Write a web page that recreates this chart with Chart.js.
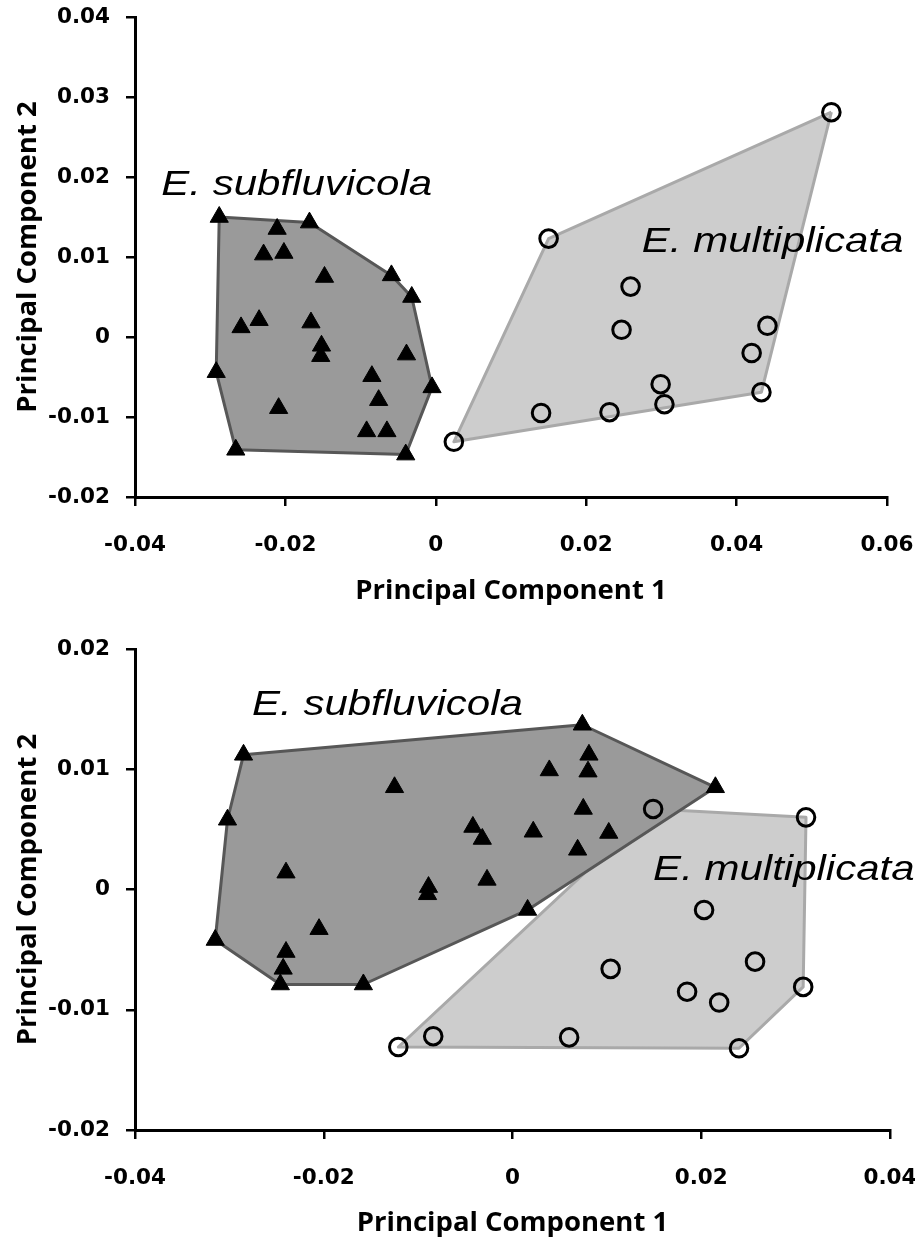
<!DOCTYPE html>
<html><head><meta charset="utf-8">
<script src="https://cdn.jsdelivr.net/npm/chart.js@4.4.1/dist/chart.umd.min.js"></script>
<style>
html,body{margin:0;padding:0;background:#fff;}
#wrap{position:relative;width:915px;height:1240px;overflow:hidden;background:#fff;}
canvas{position:absolute;left:0;}
#c1{top:0;} #c2{top:632px;}
</style></head><body>
<div id="wrap"><canvas id="c1" width="915" height="608"></canvas><canvas id="c2" width="915" height="608"></canvas></div>
<script>
// ---------- Top panel data ----------
const topTriX = [-0.0288,-0.0211,-0.0168,-0.0229,-0.0202,-0.0148,-0.0059,-0.0032,-0.0259,-0.0235,-0.0166,-0.0152,-0.0153,-0.0039,-0.0292,-0.0085,-0.0005,-0.0209,-0.0076,-0.0092,-0.0065,-0.0266,-0.0040];
const topTriY = [0.0150,0.0135,0.0143,0.0103,0.0105,0.0075,0.0077,0.0050,0.0012,0.0021,0.0018,-0.0011,-0.0024,-0.0022,-0.0044,-0.0049,-0.0063,-0.0089,-0.0079,-0.0118,-0.0118,-0.0141,-0.0147];
const topCircX = [0.0526,0.0150,0.0259,0.0247,0.0441,0.0420,0.0299,0.0304,0.0433,0.0140,0.0231,0.0024];
const topCircY = [0.0281,0.0123,0.0063,0.0009,0.0014,-0.0020,-0.0059,-0.0084,-0.0069,-0.0095,-0.0094,-0.0131];
const topTriHull = [0,2,6,7,16,22,21,14];
const topCircHull = [0,8,11,1];
const topXTicks = [-0.04,-0.02,0,0.02,0.04,0.06];
const topYTicks = [-0.02,-0.01,0,0.01,0.02,0.03,0.04];
const topLabelText = ['E. subfluvicola','E. multiplicata'];
const topLabelX = [-0.0365,0.0274];
const topLabelY = [0.0177,0.0106];

// ---------- Bottom panel data ----------
const botTriX = [-0.0285,0.0074,0.0081,0.0080,0.0039,-0.0125,0.0215,0.0075,-0.0302,-0.0042,-0.0032,0.0022,0.0102,0.0069,-0.0240,-0.0027,-0.0089,-0.0090,0.0016,-0.0205,-0.0315,-0.0240,-0.0243,-0.0246,-0.0158];
const botTriY = [0.0112,0.0137,0.0112,0.0098,0.0099,0.0085,0.0085,0.0067,0.0058,0.0052,0.0042,0.0048,0.0047,0.0033,0.0014,0.0008,0.0002,-0.0004,-0.0017,-0.0033,-0.0042,-0.0052,-0.0066,-0.0079,-0.0079];
const botCircX = [0.0149,0.0311,0.0203,0.0104,0.0257,0.0185,0.0219,0.0308,-0.0084,0.0060,-0.0121,0.0240];
const botCircY = [0.0067,0.0060,-0.0017,-0.0066,-0.0060,-0.0085,-0.0094,-0.0081,-0.0122,-0.0123,-0.0131,-0.0132];
const botTriHull = [0,1,6,18,24,23,20,8];
const botCircHull = [0,1,7,11,10];
const botXTicks = [-0.04,-0.02,0,0.02,0.04];
const botYTicks = [-0.02,-0.01,0,0.01,0.02];
const botLabelText = ['E. subfluvicola','E. multiplicata'];
const botLabelX = [-0.0276,0.0149];
const botLabelY = [0.0145,0.0008];

const xTitle = 'Principal Component 1';
const yTitle = 'Principal Component 2';

// ---------- helpers ----------
const pts = (xs, ys) => xs.map((x, i) => ({x, y: ys[i]}));
const hull = (xs, ys, idx) => idx.concat([idx[0]]).map(i => ({x: xs[i], y: ys[i]}));
const fmt = v => String(Number(Number(v).toFixed(2)));
const tickFont = {family: '"DejaVu Sans", sans-serif', size: 21.5, weight: 'bold'};
const titleFont = {family: '"Open Sans", sans-serif', size: 27.5, weight: 'bold'};

const labelPlugin = {
  id: 'speciesLabels',
  afterDatasetsDraw(chart, args, opts) {
    const {ctx} = chart; const xs = chart.scales.x, ys = chart.scales.y;
    ctx.save();
    ctx.font = 'italic 35px "Liberation Sans", Arial, sans-serif';
    ctx.fillStyle = '#000';
    ctx.textBaseline = 'alphabetic';
    ctx.textAlign = 'left';
    opts.text.forEach((t, i) => {
      ctx.save();
      ctx.translate(xs.getPixelForValue(opts.x[i]), ys.getPixelForValue(opts.y[i]));
      ctx.scale(1.2, 1);
      ctx.fillText(t, 0, 0);
      ctx.restore();
    });
    ctx.restore();
  }
};

function makeChart(id, d) {
  const axisBase = (ticks, min, max) => ({
    type: 'linear', min, max,
    afterBuildTicks: s => { s.ticks = ticks.map(v => ({value: v})); },
    grid: {drawOnChartArea: false, drawTicks: true, tickLength: 9, color: '#000', lineWidth: 2.5},
    border: {display: true, color: '#000', width: 3},
  });
  const xs = axisBase(d.xTicks, d.xTicks[0], d.xTicks[d.xTicks.length - 1]);
  xs.ticks = {callback: fmt, font: tickFont, color: '#000', padding: 27, maxRotation: 0, autoSkip: false};
  xs.title = {display: true, text: xTitle, font: titleFont, color: '#000', padding: {top: 0, bottom: 0}};
  xs.afterFit = s => { s.height = d.xAxisH; s.paddingLeft = 0; s.paddingRight = 0; };
  const ys = axisBase(d.yTicks, d.yTicks[0], d.yTicks[d.yTicks.length - 1]);
  ys.ticks = {callback: fmt, font: tickFont, color: '#000', padding: 16, autoSkip: false};
  ys.title = {display: true, text: yTitle, font: titleFont, color: '#000', padding: {top: 12, bottom: 0}};
  ys.afterFit = s => { s.width = 135; s.paddingTop = 0; s.paddingBottom = 0; };

  return new Chart(document.getElementById(id), {
    type: 'scatter',
    data: {datasets: [
      {label: 'tri', data: pts(d.triX, d.triY), order: 0, pointStyle: 'triangle', pointRadius: 10.5, pointHoverRadius: 10.5,
       backgroundColor: '#000', borderColor: '#000', borderWidth: 1},
      {label: 'circ', data: pts(d.circX, d.circY), order: 0, pointStyle: 'circle', pointRadius: 8.8, pointHoverRadius: 8.8,
       backgroundColor: 'rgba(0,0,0,0)', borderColor: '#000', borderWidth: 3},
      {label: 'triHull', data: hull(d.triX, d.triY, d.triHull), order: 1, showLine: true, fill: 'shape', pointRadius: 0,
       backgroundColor: '#9a9a9a', borderColor: '#575757', borderWidth: 3, tension: 0, borderJoinStyle: 'round'},
      {label: 'circHull', data: hull(d.circX, d.circY, d.circHull), order: 2, showLine: true, fill: 'shape', pointRadius: 0,
       backgroundColor: '#cdcdcd', borderColor: '#a9a9a9', borderWidth: 3, tension: 0, borderJoinStyle: 'round'},
    ]},
    options: {
      responsive: false, animation: false, devicePixelRatio: 1,
      layout: {padding: {top: 17, right: d.padRight, left: 0, bottom: 0}},
      scales: {x: xs, y: ys},
      plugins: {legend: {display: false}, tooltip: {enabled: false},
        speciesLabels: {text: d.labelText, x: d.labelX, y: d.labelY}}
    },
    plugins: [labelPlugin]
  });
}

makeChart('c1', {triX: topTriX, triY: topTriY, circX: topCircX, circY: topCircY, triHull: topTriHull, circHull: topCircHull,
  xTicks: topXTicks, yTicks: topYTicks, labelText: topLabelText, labelX: topLabelX, labelY: topLabelY, xAxisH: 111, padRight: 28});
makeChart('c2', {triX: botTriX, triY: botTriY, circX: botCircX, circY: botCircY, triHull: botTriHull, circHull: botCircHull,
  xTicks: botXTicks, yTicks: botYTicks, labelText: botLabelText, labelX: botLabelX, labelY: botLabelY, xAxisH: 110, padRight: 25});
</script>
</body></html>
